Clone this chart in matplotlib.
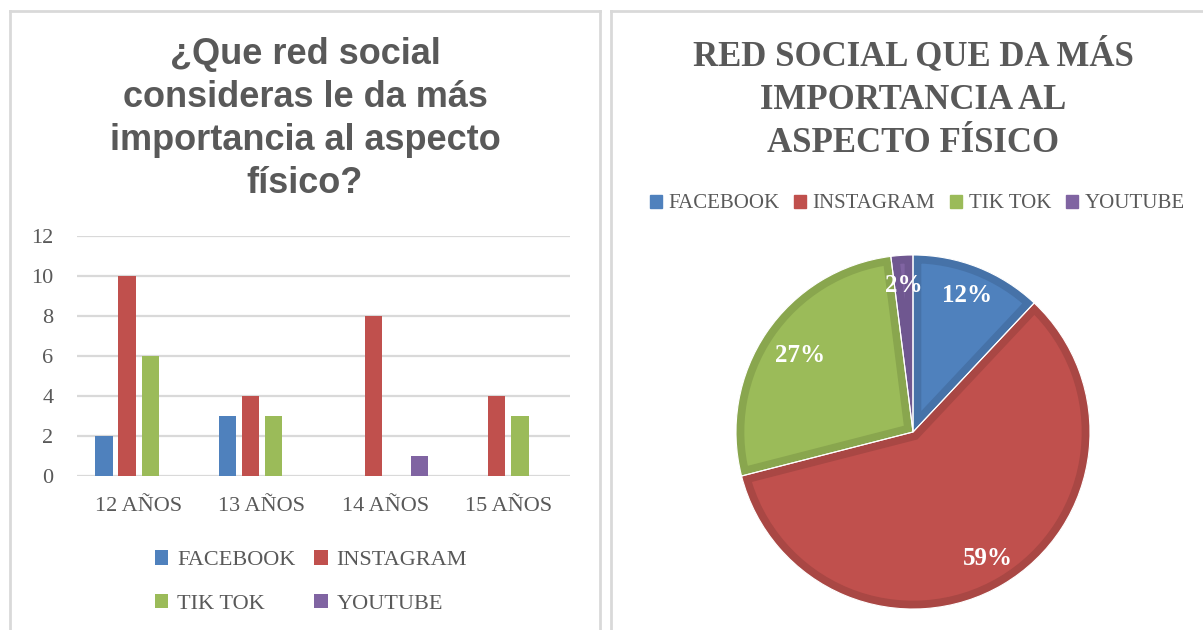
##set up
import numpy as np
import matplotlib.pyplot as plt
from matplotlib.lines import Line2D
from matplotlib.patches import Patch

## data
edades = ['12 AÑOS', '13 AÑOS', '14 AÑOS', '15 AÑOS']
redes = ['FACEBOOK', 'INSTAGRAM', 'TIK TOK', 'YOUTUBE']
facebook = [2, 3, 0, 0]
instagram = [10, 4, 8, 4]
tiktok = [6, 3, 0, 3]
youtube = [0, 0, 1, 0]
pie_pct = [12, 59, 27, 2]

colores = ['#4F81BD', '#C0504D', '#9BBB59', '#8064A2']
bordes = ['#4672A8', '#A94744', '#89A64E', '#6F5790']
gris = '#595959'
linea = '#D9D9D9'

W, H = 1203, 630
fig = plt.figure(figsize=(W / 100, H / 100), dpi=100)

def px(x, y, w, h):
    # pixel box (from top-left) -> figure fraction
    return [x / W, (H - y - h) / H, w / W, h / H]

##panel borders
for xs, ys in [([10, 10], [630, 11]), ([10, 600], [11, 11]), ([600, 600], [11, 630]),
               ([611, 611], [630, 11]), ([611, 1203], [11, 11])]:
    fig.add_artist(Line2D([x / W for x in xs], [1 - y / H for y in ys], color=linea, lw=2))

##bar chart
ax1 = fig.add_axes(px(77, 236, 493, 240))
x = np.arange(len(edades))
w = 0.14
step = 0.187
series = [facebook, instagram, tiktok, youtube]
barras = []
for i, vals in enumerate(series):
    b = ax1.bar(x + (i - 1.5) * step, vals, width=w, color=colores[i], label=redes[i], zorder=3)
    barras.append(b)

ax1.set_xlim(-0.5, 3.5)
ax1.set_ylim(0, 12)
ax1.set_yticks(range(0, 13, 2))
ax1.set_xticks(x)
ax1.set_xticklabels(edades)
ax1.yaxis.grid(True, color=linea, lw=1.6, zorder=0)
ax1.set_axisbelow(True)
for s in ax1.spines.values():
    s.set_visible(False)
ax1.tick_params(axis='both', length=0, labelsize=16, labelcolor=gris)
ax1.tick_params(axis='y', pad=17)
ax1.tick_params(axis='x', pad=15)
for t in ax1.get_xticklabels() + ax1.get_yticklabels():
    t.set_family('Liberation Serif')

fig.text(305 / W, 1 - 119 / H, '¿Que red social\nconsideras le da más\nimportancia al aspecto\nfísico?',
         ha='center', va='center', fontsize=26, fontweight='bold', color=gris,
         family='Liberation Sans', linespacing=1.3)

##legend order so rows read FB, IG / TT, YT
orden = [0, 2, 1, 3]
fig.legend([barras[i] for i in orden], [redes[i] for i in orden], loc='center',
           bbox_to_anchor=(311 / W, 48 / H), ncol=2, frameon=False,
           prop={'family': 'Liberation Serif', 'size': 16}, labelcolor=gris,
           handlelength=0.6, handleheight=0.6, handletextpad=0.4,
           columnspacing=0.85, labelspacing=1.05)

##pie chart
ax2 = fig.add_axes(px(736, 255, 354, 354))
wedges, textos, pcts = ax2.pie(pie_pct, colors=colores, startangle=90, counterclock=False,
                               autopct='%.0f%%', pctdistance=0.83,
                               textprops={'color': 'white', 'fontweight': 'bold',
                                          'family': 'Liberation Serif', 'fontsize': 18})
ax2.set_xlim(-1, 1)
ax2.set_ylim(-1, 1)
# 27% label sits a bit closer to the centre
px27 = np.array(pcts[2].get_position())
pcts[2].set_position(px27 * 0.77 / 0.83)
# inset darker border: stroke clipped to the wedge itself
for wd, bc in zip(wedges, bordes):
    wd.set_edgecolor(bc)
    wd.set_linewidth(12)
    wd.set_clip_path(wd)
    wd.set_clip_on(True)
# thin white separators
ax2.pie(pie_pct, colors=['none'] * 4, startangle=90, counterclock=False,
        wedgeprops={'edgecolor': 'white', 'linewidth': 0.8})
ax2.set_xlim(-1, 1)
ax2.set_ylim(-1, 1)

fig.text(913 / W, 1 - 99 / H, 'RED SOCIAL QUE DA MÁS\nIMPORTANCIA AL\nASPECTO FÍSICO',
         ha='center', va='center', fontsize=25, fontweight='bold', color=gris,
         family='Liberation Serif', linespacing=1.42)

proxies = [Patch(color=c) for c in colores]
fig.legend(proxies, redes, loc='center', bbox_to_anchor=(917 / W, 1 - 204 / H), ncol=4,
           frameon=False, prop={'family': 'Liberation Serif', 'size': 15}, labelcolor=gris,
           handlelength=0.6, handleheight=0.6, handletextpad=0.3, columnspacing=0.7)

##save
fig.savefig('out.png', dpi=100)
